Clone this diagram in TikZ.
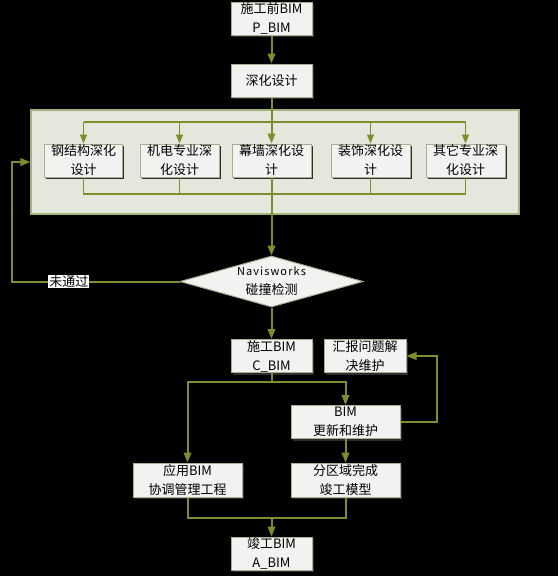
\documentclass[tikz,border=0pt]{standalone}
\usepackage{fontspec}
\usepackage{tikz}
\usetikzlibrary{shapes.geometric, arrows.meta, positioning, calc, shadows}
\newfontfamily\cjk{Noto Sans CJK SC}
\definecolor{flowcolor}{RGB}{124,143,42}
\definecolor{boxcolor}{RGB}{242,242,240}
\definecolor{boxline}{RGB}{168,174,146}
\definecolor{panelcolor}{RGB}{228,231,220}
\definecolor{panelline}{RGB}{164,179,122}

\begin{document}
\begin{tikzpicture}[
    x=1pt, y=-1pt,
    stage/.style={rectangle, draw=boxline, line width=1pt, fill=boxcolor, align=center, inner sep=0pt,
        drop shadow={shadow xshift=1.5pt, shadow yshift=-2pt, fill=black!65!gray, opacity=1}},
    task/.style={stage, minimum width=81pt, minimum height=33pt},
    wide/.style={stage, minimum width=109pt, minimum height=33pt},
    panel/.style={rectangle, draw=panelline, line width=1.2pt, fill=panelcolor, minimum width=488pt, minimum height=104pt},
    check/.style={diamond, draw=boxline, fill=boxcolor, line width=1pt, minimum width=183pt, minimum height=51pt, aspect=3.6, inner sep=0pt, align=center},
    flow/.style={draw=flowcolor, line width=2pt},
    link/.style={-{Triangle[width=7.5pt,length=10pt]}, flow},
    bus/.style={draw=flowcolor, line width=1.3pt},
    buslink/.style={-{Triangle[width=7pt,length=9pt]}, bus},
    fail/.style={fill=white, text=black, inner sep=1pt},
    font=\cjk\fontsize{13}{19}\selectfont
]
    \fill[black] (0,0) rectangle (558,576);
    \useasboundingbox (0,0) rectangle (558,576);

    % Start
    \node[task] (pbim) at (271.5,18.5) {施工前BIM\\P\_BIM};
    \node[task] (deepen) at (271.5,80.5) {深化设计};

    % Detailing panel
    \node[panel] (panel) at (275,162) {};
    \node[task, minimum width=78pt] (steel) at (83.5,160.5) {钢结构深化\\设计};
    \node[task, minimum width=79pt] (mep) at (179.5,160.5) {机电专业深\\化设计};
    \node[task, minimum width=79pt] (wall) at (271.5,160.5) {幕墙深化设\\计};
    \node[task, minimum width=79pt] (deco) at (370.5,160.5) {装饰深化设\\计};
    \node[task, minimum width=79pt] (other) at (465.5,160.5) {其它专业深\\化设计};
    \coordinate (topbus) at (271.5,122);
    \coordinate (botbus) at (271.5,194);

    % Clash check
    \node[check] (clash) at (271.5,281.5) {{\fontsize{11}{19}\selectfont\addfontfeature{LetterSpace=10}Navisworks}\\碰撞检测};
    \coordinate (loop) at (12,281.5);

    % Construction
    \node[task] (cbim) at (271.5,356) {施工BIM\\C\_BIM};
    \node[task, minimum width=82pt] (report) at (365,356) {汇报问题解\\决维护};
    \node[wide] (update) at (345.5,422) {BIM\\更新和维护};
    \node[wide, minimum height=34pt] (apply) at (187.5,480) {应用BIM\\协调管理工程};
    \node[wide, minimum height=34pt] (zone) at (345.5,480) {分区域完成\\竣工模型};
    \node[task] (abim) at (271.5,553.5) {竣工BIM\\A\_BIM};
    \coordinate (split) at (271.5,382);
    \coordinate (back) at (437,356);
    \coordinate (join) at (271.5,518);

    % Connectors
    \draw[link] (pbim) -- (deepen);
    \draw[link] (deepen) -- (wall);
    \draw[bus] (steel.north |- topbus) -- (other.north |- topbus);
    \foreach \n in {steel, mep, deco, other}
        \draw[buslink] (\n.north |- topbus) -- (\n.north);
    \draw[bus] (steel.south) -- (steel.south |- botbus) -- (other.south |- botbus) -- (other.south);
    \draw[bus] (mep.south) -- (mep.south |- botbus);
    \draw[bus] (deco.south) -- (deco.south |- botbus);
    \draw[link] (wall) -- (clash);
    \draw[link] (clash.west) -- node[fail, pos=0.66] {未通过} (loop) |- (panel.west);

    \draw[link] (clash) -- (cbim);
    \draw[flow] (cbim) -- (split);
    \draw[link] (split) -| (update.north);
    \draw[link] (split) -| (apply.north);
    \draw[link] (update.east) -| (back) -- (report.east);
    \draw[link] (update) -- (zone);
    \draw[flow] (apply.south) |- (join);
    \draw[flow] (zone.south) |- (join);
    \draw[link] (join) -- (abim);

\end{tikzpicture}
\end{document}
